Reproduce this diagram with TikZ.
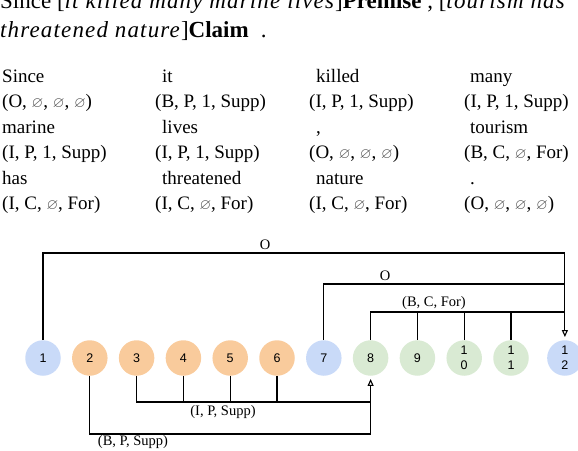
\documentclass[tikz,border=0pt]{standalone}
\usepackage{amssymb}
\usepackage{fontspec}
\setmainfont{Liberation Serif}[ItalicFeatures={LetterSpace=5}]
\newfontfamily\numfont{Liberation Sans}
\usetikzlibrary{arrows.meta, positioning}

\definecolor{tokblue}{HTML}{C9DAF8}
\definecolor{tokorange}{HTML}{F9CB9C}
\definecolor{tokgreen}{HTML}{D9EAD3}
\newcommand{\nul}{{\color{black!70}\fontsize{15}{15}\selectfont$\varnothing$}}

\begin{document}
\begin{tikzpicture}[x=1pt, y=-1pt,
    % --- node styles ---
    head/.style={anchor=base west, inner sep=0pt,
        font=\fontsize{23}{28}\selectfont},
    word/.style={anchor=base west, inner sep=0pt,
        font=\fontsize{19}{23}\selectfont},
    tok/.style={circle, minimum size=35.5pt, inner sep=0pt, align=center,
        font=\numfont\fontsize{12.5}{15}\selectfont},
    lbl/.style={font=\fontsize{14.5}{17}\selectfont, inner sep=1pt},
    % --- line styles ---
    line/.style={line width=1.1pt},
    arr/.style={line, -{Triangle[open, width=6pt, length=7pt]},
        shorten >=3pt},
    node distance=0pt and 10.9pt
]
\useasboundingbox (0,0) rectangle (578,450);

%%% ================= SENTENCE =================
\node (title1) [head] at (0,8)
    {Since [\textit{it killed many marine lives}]\textbf{Premise} , [\textit{tourism has}};
\node (title2) [head] at (0,37)
    {\textit{threatened nature}]\textbf{Claim}\hspace{12pt}.};

%%% ================= TOKENS AND TAGS =================
\node (w1)  [word] at (2,82)   {Since};
\node (w2)  [word] at (162,82) {it};
\node (w3)  [word] at (316,82) {killed};
\node (w4)  [word] at (470,82) {many};
\node (t1)  [word] at (2,107)   {(O, \nul, \nul, \nul)};
\node (t2)  [word] at (155,107) {(B, P, 1, Supp)};
\node (t3)  [word] at (309,107) {(I, P, 1, Supp)};
\node (t4)  [word] at (464,107) {(I, P, 1, Supp)};

\node (w5)  [word] at (2,133)   {marine};
\node (w6)  [word] at (162,133) {lives};
\node (w7)  [word] at (316,133) {,};
\node (w8)  [word] at (470,133) {tourism};
\node (t5)  [word] at (2,158)   {(I, P, 1, Supp)};
\node (t6)  [word] at (155,158) {(I, P, 1, Supp)};
\node (t7)  [word] at (309,158) {(O, \nul, \nul, \nul)};
\node (t8)  [word] at (464,158) {(B, C, \nul, For)};

\node (w9)  [word] at (2,184)   {has};
\node (w10) [word] at (162,184) {threatened};
\node (w11) [word] at (316,184) {nature};
\node (w12) [word] at (470,184) {.};
\node (t9)  [word] at (2,209)   {(I, C, \nul, For)};
\node (t10) [word] at (155,209) {(I, C, \nul, For)};
\node (t11) [word] at (309,209) {(I, C, \nul, For)};
\node (t12) [word] at (464,209) {(O, \nul, \nul, \nul)};

%%% ================= GRAPH NODES =================
\node (n1)  [tok, fill=tokblue] at (43,358) {1};
\node (n2)  [tok, fill=tokorange, right=of n1] {2};
\node (n3)  [tok, fill=tokorange, right=of n2] {3};
\node (n4)  [tok, fill=tokorange, right=of n3] {4};
\node (n5)  [tok, fill=tokorange, right=of n4] {5};
\node (n6)  [tok, fill=tokorange, right=of n5] {6};
\node (n7)  [tok, fill=tokblue,   right=of n6] {7};
\node (n8)  [tok, fill=tokgreen,  right=of n7] {8};
\node (n9)  [tok, fill=tokgreen,  right=of n8] {9};
\node (n10) [tok, fill=tokgreen,  right=of n9] {1\\0};
\node (n11) [tok, fill=tokgreen,  right=of n10] {1\\1};
\node (n12) [tok, fill=tokblue,   right=18pt of n11] {1\\2};

%%% ================= LANES =================
\coordinate (laneO)  at (0,253);
\coordinate (laneO2) at (0,284);
\coordinate (laneC)  at (0,312);
\coordinate (laneP)  at (0,402);
\coordinate (laneB)  at (0,434);

%% Upper links into 12
\draw [arr] (n1.north) |- (laneO -| n12) -- (n12.north);
\draw [line] (n7.north) |- (laneO2 -| n12);
\draw [line] (n8.north) |- (laneC -| n12);
\draw [line] (n9.north) -- (laneC -| n9);
\draw [line] (n10.north) -- (laneC -| n10);
\draw [line] (n11.north) -- (laneC -| n11);

%% Lower links into 8
\draw [arr] (n2.south) |- (laneB -| n8) -- (n8.south);
\draw [line] (n3.south) |- (laneP -| n8);
\draw [line] (n4.south) -- (laneP -| n4);
\draw [line] (n5.south) -- (laneP -| n5);
\draw [line] (n6.south) -- (laneP -| n6);

%% Labels
\node (lo1)  [lbl] at (265,245) {O};
\node (lo2)  [lbl] at (385,276) {O};
\node (lbcf) [lbl] at (434,303) {(B, C, For)};
\node (lips) [lbl] at (223,412) {(I, P, Supp)};
\node (lbps) [lbl] at (133,442) {(B, P, Supp)};

\end{tikzpicture}
\end{document}
